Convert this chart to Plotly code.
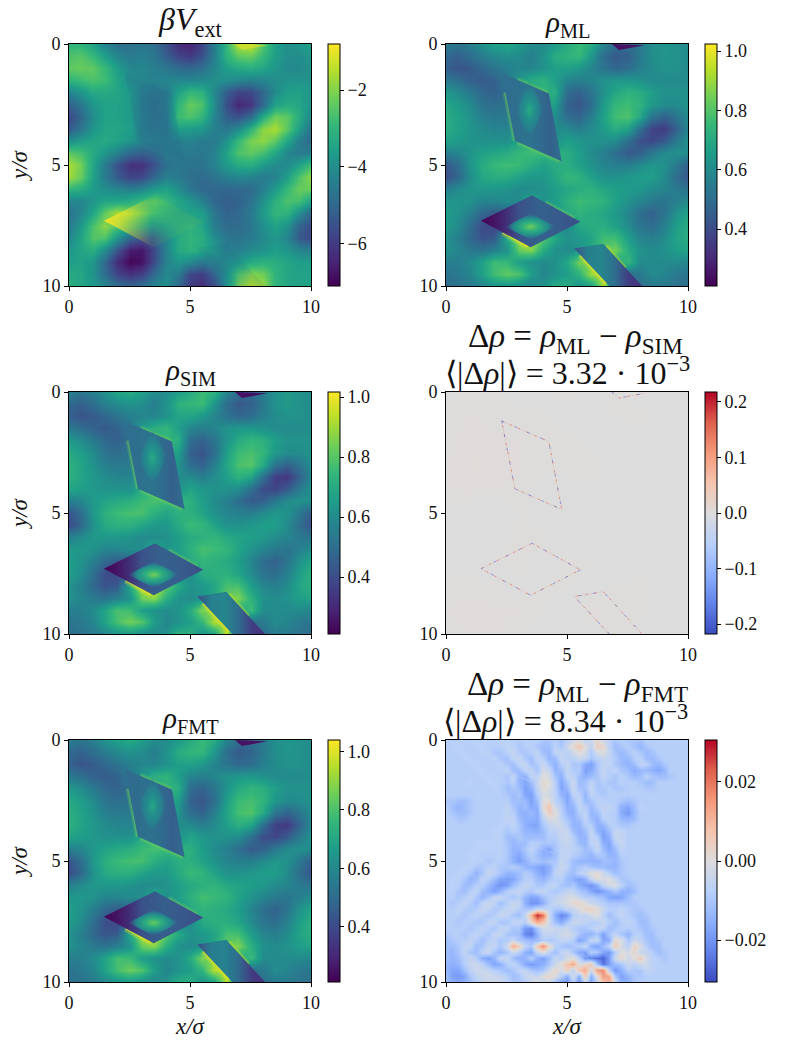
import numpy as np
import plotly.graph_objects as go
from plotly.colors import sample_colorscale

# values, rows are y = 0..10, columns x = 0..10
V_EXT = [
    [-3.0,-3.0,-3.5,-4.3,-4.8,-4.8,-4.6,-4.8,-5.5,-6.3,-6.5,-5.8,-4.5,-3.0,-1.5,-1.3,-2.5,-3.5,-4.0,-3.8,-3.5],
    [-2.6,-2.5,-2.9,-3.6,-4.2,-4.5,-4.4,-4.6,-5.2,-5.8,-6.0,-5.5,-4.4,-3.1,-2.4,-2.3,-2.9,-3.6,-4.0,-4.0,-3.8],
    [-2.4,-2.3,-2.4,-2.9,-3.6,-4.2,-4.2,-4.4,-4.6,-4.9,-5.0,-4.8,-4.2,-3.6,-3.3,-3.2,-3.4,-3.8,-4.1,-4.1,-3.9],
    [-3.0,-2.8,-2.6,-2.8,-3.4,-4.0,-4.2,-4.3,-4.2,-4.2,-4.2,-4.1,-4.0,-4.0,-4.2,-4.3,-4.2,-4.0,-3.9,-3.9,-3.9],
    [-4.2,-3.8,-3.3,-3.3,-3.4,-3.7,-4.4,-4.6,-4.5,-3.5,-2.9,-3.1,-4.1,-5.2,-5.8,-5.7,-5.0,-4.1,-3.6,-3.5,-3.8],
    [-5.2,-4.6,-3.8,-3.5,-3.5,-3.7,-4.5,-4.8,-4.5,-3.0,-2.3,-2.6,-4.0,-5.5,-6.4,-6.1,-4.9,-3.5,-3.2,-3.4,-3.9],
    [-5.7,-5.0,-4.0,-3.5,-3.5,-3.7,-4.4,-4.7,-4.6,-2.8,-2.6,-3.0,-4.2,-5.2,-5.5,-4.8,-3.2,-2.2,-2.4,-3.2,-4.2],
    [-5.3,-4.6,-3.8,-3.4,-3.4,-3.6,-4.4,-4.6,-4.6,-3.6,-3.7,-3.8,-4.3,-4.6,-4.1,-3.0,-1.9,-1.6,-2.4,-3.6,-4.8],
    [-3.9,-3.6,-3.4,-3.3,-3.5,-3.8,-4.3,-4.4,-4.5,-4.4,-4.3,-4.5,-4.5,-3.9,-2.9,-2.1,-1.9,-2.4,-3.4,-4.4,-5.0],
    [-2.4,-2.7,-3.3,-3.8,-4.3,-5.0,-5.2,-5.0,-4.5,-4.5,-4.5,-4.6,-4.3,-3.5,-2.6,-2.4,-2.7,-3.4,-4.2,-4.5,-4.4],
    [-1.6,-2.2,-3.4,-4.5,-5.5,-6.2,-6.2,-5.5,-4.8,-4.6,-4.7,-4.7,-4.3,-3.7,-3.3,-3.2,-3.7,-4.1,-4.1,-3.5,-2.7],
    [-1.7,-2.3,-3.5,-4.5,-5.3,-5.8,-5.7,-5.0,-4.4,-4.5,-4.8,-4.9,-4.7,-4.4,-4.2,-4.3,-4.5,-4.3,-3.6,-2.6,-1.9],
    [-3.0,-3.2,-3.7,-4.0,-4.2,-4.4,-4.2,-3.7,-3.5,-4.0,-4.6,-5.0,-5.0,-5.0,-5.0,-4.9,-4.4,-3.7,-2.9,-2.3,-2.3],
    [-4.2,-4.2,-3.8,-3.4,-3.4,-3.2,-2.8,-2.5,-2.9,-3.4,-3.8,-4.3,-5.0,-5.2,-5.1,-4.7,-3.9,-3.1,-2.6,-2.7,-3.5],
    [-4.7,-4.2,-3.4,-2.3,-1.6,-1.9,-2.4,-2.8,-3.1,-3.4,-3.5,-3.6,-4.6,-5.1,-5.0,-4.5,-3.7,-3.0,-3.0,-4.0,-5.0],
    [-4.5,-3.7,-2.6,-1.9,-2.6,-3.3,-3.7,-3.9,-3.6,-3.3,-3.1,-3.4,-4.4,-4.9,-4.9,-4.6,-4.0,-3.5,-3.9,-5.1,-5.6],
    [-4.2,-3.4,-2.5,-2.6,-3.8,-5.0,-5.5,-5.2,-4.2,-3.3,-3.0,-3.2,-4.0,-4.6,-4.7,-4.5,-4.1,-3.8,-4.2,-5.3,-5.7],
    [-3.8,-3.4,-3.2,-4.0,-5.4,-6.6,-6.7,-5.7,-4.3,-3.3,-3.1,-3.3,-3.7,-4.3,-4.4,-4.1,-3.9,-3.6,-3.8,-4.2,-4.4],
    [-3.6,-3.5,-3.8,-5.0,-6.3,-7.0,-6.8,-5.6,-4.3,-3.8,-4.1,-4.6,-4.3,-4.0,-3.7,-3.3,-3.1,-3.2,-3.4,-3.6,-3.6],
    [-3.3,-3.4,-3.9,-4.9,-5.8,-6.2,-5.9,-4.9,-4.1,-4.5,-5.7,-5.9,-5.1,-3.9,-2.6,-2.0,-2.2,-3.0,-3.4,-3.5,-3.5],
    [-3.2,-3.4,-3.7,-4.2,-4.8,-5.0,-4.8,-4.2,-4.0,-4.9,-6.0,-6.3,-5.6,-4.0,-2.1,-1.5,-1.8,-3.0,-3.4,-3.5,-3.5],
]

# densities in hundredths
RHO_ML = [
    [55,52,56,62,67,69,65,60,60,65,70,76,71,58,50,50,54,61,63,62,60],
    [48,46,50,55,59,61,60,56,62,71,73,75,64,50,44,46,54,61,63,62,60],
    [46,42,44,48,52,56,58,58,62,67,67,64,58,52,48,50,56,60,62,62,60],
    [54,50,46,44,46,54,64,71,73,66,58,56,58,62,64,64,62,60,60,60,60],
    [64,60,54,48,46,50,58,66,73,71,50,46,52,62,69,73,71,66,62,62,62],
    [69,65,60,52,50,52,58,64,69,65,46,43,50,65,75,77,73,64,60,60,62],
    [71,67,62,56,54,54,58,62,65,61,50,47,56,67,77,79,69,52,46,52,60],
    [71,67,63,60,58,58,60,62,63,60,60,56,60,65,71,67,50,37,35,46,58],
    [67,65,63,62,62,62,69,75,71,62,67,64,62,62,60,50,41,39,44,54,62],
    [56,58,63,67,69,71,75,77,75,73,71,66,60,56,50,44,46,54,60,62,60],
    [43,50,63,71,75,77,76,71,67,71,71,67,62,58,56,56,60,64,62,54,45],
    [41,48,61,69,71,71,67,64,64,69,75,73,67,62,62,64,66,66,60,50,43],
    [56,60,63,64,64,62,60,60,62,66,69,71,73,69,67,65,64,60,58,54,52],
    [63,63,62,58,58,60,60,71,62,66,72,77,75,73,67,62,58,54,52,56,60],
    [65,62,56,48,44,46,50,56,60,64,70,73,71,69,65,58,50,46,52,62,68],
    [65,60,50,40,38,46,60,66,64,60,60,69,71,71,67,60,52,50,56,66,71],
    [62,56,48,42,44,70,90,95,81,69,62,64,68,77,77,66,58,56,60,68,71],
    [62,58,54,52,56,62,83,87,71,62,60,62,70,81,85,71,62,60,62,66,68],
    [56,56,60,67,77,75,66,62,60,62,69,85,83,70,66,75,60,60,60,60,58],
    [52,54,58,67,77,82,79,66,58,62,66,73,90,87,58,50,54,60,58,54,52],
    [50,52,54,58,62,63,60,58,62,71,71,62,66,92,52,48,50,54,54,52,50],
]
RHO_SIM = [
    [56,52,56,62,68,70,66,60,60,66,70,76,72,58,50,50,54,62,64,62,60],
    [48,46,50,56,60,62,60,56,62,72,74,76,64,50,44,46,54,62,64,62,60],
    [46,42,44,48,52,56,58,58,62,68,68,64,58,52,48,50,56,60,62,62,60],
    [54,50,46,44,46,54,64,72,74,66,58,56,58,62,64,64,62,60,60,60,60],
    [64,60,54,48,46,50,58,66,74,72,50,46,52,62,70,74,72,66,62,62,62],
    [70,66,60,52,50,52,58,64,70,66,46,42,50,66,76,78,74,64,60,60,62],
    [72,68,62,56,54,54,58,62,66,62,50,46,56,68,78,80,70,52,46,52,60],
    [72,68,64,60,58,58,60,62,64,60,60,56,60,66,72,68,50,36,34,46,58],
    [68,66,64,62,62,62,70,76,72,62,68,64,62,62,60,50,40,38,44,54,62],
    [56,58,64,68,70,72,76,78,76,74,72,66,60,56,50,44,46,54,60,62,60],
    [42,50,64,72,76,78,78,72,68,72,72,68,62,58,56,56,60,64,62,54,44],
    [40,48,62,70,72,72,68,64,64,70,76,74,68,62,62,64,66,66,60,50,42],
    [56,60,64,64,64,62,60,60,62,66,70,72,74,70,68,66,64,60,58,54,52],
    [64,64,62,58,58,60,60,72,62,66,72,78,76,74,68,62,58,54,52,56,60],
    [66,62,56,48,44,46,50,56,60,64,70,74,72,70,66,58,50,46,52,62,68],
    [66,60,50,40,38,46,60,66,64,60,60,70,72,72,68,60,52,50,56,66,72],
    [62,56,48,42,44,70,92,96,82,70,62,64,68,78,78,66,58,56,60,68,72],
    [62,58,54,52,56,62,84,88,72,62,60,62,70,82,86,72,62,60,62,66,68],
    [56,56,60,68,78,76,66,62,60,62,70,86,84,70,66,76,60,60,60,60,58],
    [52,54,58,68,78,84,80,66,58,62,66,74,92,88,58,50,54,60,58,54,52],
    [50,52,54,58,62,64,60,58,62,72,72,62,66,94,52,48,50,54,54,52,50],
]
RHO_FMT = [
    [56,53,57,63,68,71,67,61,61,66,71,77,72,59,51,51,55,62,64,63,61],
    [49,47,51,56,60,63,61,57,63,72,75,76,65,51,45,47,55,62,64,63,61],
    [47,43,45,49,53,57,59,59,63,68,68,65,59,53,49,51,57,61,63,63,61],
    [55,51,47,45,47,55,65,73,75,67,59,57,59,63,65,65,63,61,61,61,61],
    [65,61,55,49,47,51,59,67,75,73,51,47,53,63,71,75,73,67,63,63,63],
    [71,67,61,53,51,53,59,65,71,67,47,43,51,67,77,79,75,65,61,61,63],
    [73,69,63,57,55,55,59,63,67,63,51,47,57,69,79,81,71,53,47,53,61],
    [73,69,65,61,59,59,61,63,65,61,61,57,61,67,73,69,51,37,35,47,59],
    [69,67,65,63,63,63,71,77,73,63,69,65,63,63,61,51,41,39,45,55,63],
    [57,59,65,69,71,73,77,79,77,75,73,67,61,57,51,45,47,55,61,63,61],
    [43,51,65,73,77,79,79,73,69,73,73,69,63,59,57,57,61,65,63,55,45],
    [41,49,63,71,73,73,69,65,65,71,77,75,69,63,63,65,67,67,61,51,43],
    [57,61,65,65,65,63,61,61,63,67,71,73,75,71,69,67,65,61,59,55,53],
    [65,65,63,59,59,61,61,73,63,67,73,79,77,75,69,63,59,55,53,57,61],
    [67,63,57,49,45,47,51,57,61,65,71,75,73,71,67,59,51,47,53,63,69],
    [67,61,51,41,39,47,61,67,65,61,61,71,73,73,69,61,53,51,57,67,73],
    [63,57,49,43,45,71,94,98,83,71,63,65,69,79,79,67,59,57,61,69,73],
    [63,59,55,53,57,63,85,89,73,63,61,63,71,83,88,73,63,61,63,67,69],
    [57,57,61,69,79,77,67,63,61,63,71,88,85,71,67,77,61,61,61,61,59],
    [53,55,59,69,79,85,81,67,59,63,67,75,95,90,59,51,55,61,59,55,53],
    [51,53,55,59,63,65,61,59,63,73,73,63,67,96,53,49,51,55,55,53,51],
]

# differences in thousandths
DELTA_SIM = [
    [0,1,1,0,0,2,-1,1,0,0,0],
    [1,2,1,1,1,-1,-1,1,1,0,0],
    [1,3,2,2,1,2,0,-2,0,0,0],
    [2,3,3,2,1,1,2,-2,-1,0,0],
    [2,3,2,1,0,0,0,0,0,0,0],
    [-1,-2,-2,1,-1,-2,0,0,0,0,0],
    [-2,-1,-1,2,1,-1,-1,0,0,0,0],
    [0,0,-1,3,-2,1,1,-1,0,0,0],
    [1,1,1,-1,1,1,-1,1,1,0,0],
    [2,3,2,2,1,-2,3,1,1,0,0],
    [1,2,2,1,-1,2,-2,2,0,0,0],
]
DELTA_FMT = [
    [-8,-8,-8,-8,-7,-7,-8,-8,-8,-7,  -7,-8,-8,-8,-7,-8,-10,-10,-8,-11,  -7,-3,-2,-6,-4,2,-3,-7,-10,-8,  -10,-10,-11,-8,-8,-8,-8,-8,-8,-8,-8],
    [-8,-7,-7,-8,-8,-7,-7,-8,-8,-8,  -6,-7,-10,-8,-7,-10,-12,-12,-7,-10,  -4,2,7,0,-6,5,2,-7,-12,-10,  -8,-11,-14,-10,-8,-8,-8,-8,-8,-8,-8],
    [-8,-8,-7,-7,-8,-8,-7,-7,-10,-10,  -7,-5,-9,-10,-8,-6,-12,-13,-6,-6,  -7,-3,1,-2,-9,-2,0,-5,-11,-13,  -10,-7,-10,-13,-11,-8,-8,-8,-8,-8,-8],
    [-8,-8,-8,-7,-7,-8,-8,-8,-7,-10,  -11,-6,-5,-10,-12,-6,-8,-14,-12,-5,  -7,-7,-4,-5,-10,-7,-5,-6,-9,-13,  -13,-8,-7,-12,-13,-10,-8,-8,-8,-8,-8],
    [-8,-8,-8,-8,-7,-7,-8,-8,-8,-7,  -10,-12,-6,-5,-11,-9,-4,-10,-15,-8,  -5,-10,-10,-16,-18,-10,-6,-6,-10,-12,  -15,-12,-6,-7,-12,-14,-10,-8,-8,-8,-8],
    [-8,-8,-8,-8,-8,-7,-7,-8,-8,-8,  -6,-12,-12,-6,-6,-11,-2,-5,-14,-12,  -5,-9,-9,-18,-16,-10,-5,-8,-6,-10,  -12,-16,-13,-13,-15,-17,-14,-8,-8,-8,-8],
    [-8,-8,-8,-8,-8,-8,-7,-7,-8,-8,  -10,-6,-14,-15,-6,-6,0,-2,-11,-15,  -6,-6,-12,-15,-12,-10,-6,-8,-10,-7,  -10,-13,-12,-7,-10,-12,-12,-10,-8,-8,-8],
    [-8,-8,-8,-8,-7,-8,-8,-7,-7,-8,  -10,-7,-14,-17,-12,-5,2,0,-8,-17,  -10,-4,-12,-11,-6,-10,-8,-10,-10,-7,  -8,-8,-10,-12,-12,-8,-8,-8,-8,-8,-8],
    [-8,-8,-8,-8,-8,-8,-8,-8,-7,-8,  -12,-10,-12,-18,-15,-6,2,-1,-7,-17,  -13,-4,-11,-11,-5,-10,-10,-8,-10,-10,  -8,-8,-8,-10,-10,-8,-8,-8,-8,-8,-8],
    [-8,-8,-8,-8,-8,-8,-8,-8,-8,-8,  -10,-12,-10,-17,-18,-8,-2,-2,-7,-14,  -17,-6,-7,-14,-6,-8,-10,-8,-8,-8,  -8,-8,-8,-8,-8,-8,-8,-8,-8,-8,-8],
    [-10,-10,-12,-12,-10,-8,-8,-8,-8,-8,  -8,-12,-12,-13,-18,-12,0,1,-7,-10,  -17,-11,-5,-13,-11,-7,-7,-8,-8,-10,  -12,-10,-8,-8,-8,-8,-8,-8,-8,-8,-8],
    [-8,-12,-14,-12,-10,-8,-8,-8,-8,-8,  -6,-10,-14,-12,-16,-15,1,7,-3,-8,  -15,-14,-6,-8,-13,-8,-6,-6,-8,-15,  -17,-12,-7,-8,-8,-8,-8,-8,-8,-8,-8],
    [-8,-10,-12,-12,-10,-8,-8,-8,-8,-8,  -6,-8,-14,-15,-13,-16,-3,5,1,-7,  -14,-15,-8,-6,-14,-12,-6,-8,-8,-16,  -19,-13,-8,-8,-8,-8,-8,-8,-8,-8,-8],
    [-8,-8,-10,-10,-8,-8,-8,-8,-8,-8,  -6,-6,-12,-15,-15,-16,-7,-2,-1,-6,  -10,-14,-12,-6,-12,-15,-8,-6,-8,-13,  -14,-12,-8,-8,-8,-8,-8,-8,-8,-8,-8],
    [-8,-8,-8,-8,-8,-8,-8,-8,-8,-7,  -8,-6,-10,-15,-17,-17,-10,-6,-3,-4,  -8,-14,-14,-8,-8,-15,-14,-8,-8,-10,  -10,-8,-8,-8,-8,-8,-8,-8,-8,-8,-8],
    [-8,-8,-8,-8,-8,-8,-8,-8,-7,-7,  -10,-8,-10,-14,-14,-15,-12,-7,-7,-4,  -5,-12,-15,-12,-5,-14,-17,-12,-5,-6,  -8,-8,-8,-8,-8,-8,-8,-8,-8,-8,-8],
    [-8,-8,-8,-8,-8,-8,-8,-8,-7,-7,  -12,-12,-10,-12,-12,-12,-12,-8,-8,-5,  -4,-8,-14,-14,-5,-8,-18,-15,-5,-5,  -8,-8,-8,-8,-8,-8,-8,-8,-8,-8,-8],
    [-8,-8,-8,-8,-8,-7,-7,-7,-7,-7,  -10,-14,-12,-12,-8,-8,-10,-10,-10,-6,  -5,-7,-12,-14,-7,-5,-15,-17,-8,-5,  -8,-8,-8,-8,-8,-8,-8,-8,-8,-8,-8],
    [-8,-8,-8,-8,-8,-7,-7,-7,-8,-7,  -10,-14,-14,-10,-6,-10,-15,-17,-10,-6,  -6,-7,-8,-12,-10,-5,-12,-17,-12,-6,  -8,-8,-8,-8,-8,-8,-8,-8,-8,-8,-8],
    [-8,-8,-8,-8,-7,-7,-8,-8,-8,-7,  -10,-15,-17,-12,-8,-12,-15,-15,-12,-6,  -6,-8,-10,-12,-14,-10,-10,-14,-14,-8,  -8,-8,-8,-8,-8,-8,-8,-8,-8,-8,-8],
    [-8,-8,-8,-8,-7,-7,-8,-10,-8,-8,  -10,-15,-18,-15,-10,-10,-12,-10,-10,-5,  -7,-12,-14,-14,-15,-15,-12,-12,-14,-10,  -8,-8,-8,-8,-8,-8,-8,-8,-8,-8,-8],
    [-8,-8,-8,-7,-7,-10,-10,-7,-7,-10,  -10,-8,-10,-14,-15,-17,-18,-15,-8,-4,  -7,-12,-10,-8,-10,-12,-12,-14,-14,-10,  -8,-8,-8,-8,-8,-8,-8,-8,-8,-8,-8],
    [-8,-8,-7,-7,-10,-14,-10,-5,-7,-10,  -14,-14,-12,-8,-10,-15,-18,-14,-6,-5,  -10,-12,-7,-5,0,2,-3,-8,-12,-10,  -8,-8,-8,-8,-8,-8,-8,-8,-8,-8,-8],
    [-8,-7,-7,-10,-14,-12,-6,-8,-12,-17,  -18,-17,-12,-8,-8,-12,-14,-10,-8,-8,  -12,-15,-18,-15,-5,0,-2,0,-5,-10,  -10,-8,-8,-8,-8,-8,-8,-8,-8,-8,-8],
    [-8,-7,-8,-12,-12,-8,-8,-12,-17,-20,  -18,-12,-8,-5,-7,-10,-10,-6,-6,-10,  -12,-10,-15,-18,-20,-15,-5,-2,-1,-7,  -12,-10,-8,-8,-8,-8,-8,-8,-8,-8,-8],
    [-8,-7,-10,-12,-8,-6,-12,-15,-18,-14,  -8,-6,-5,-8,-10,-6,-5,-8,-10,-8,  -5,-6,-10,-12,-17,-20,-18,-14,-10,-14,  -15,-12,-8,-8,-8,-8,-8,-8,-8,-8,-8],
    [-8,-8,-10,-8,-6,-10,-14,-10,-5,-5,  -8,-10,-8,-14,-17,-17,-12,-8,-6,-4,  -2,-1,-5,-8,-8,-10,-12,-17,-18,-17,  -12,-8,-8,-8,-8,-8,-8,-8,-8,-8,-8],
    [-8,-10,-8,-6,-8,-12,-6,-4,-6,-12,  -8,-4,-5,-15,-20,-20,-15,-8,-5,-4,  -1,2,3,0,-4,-6,-8,-10,-10,-10,  -10,-10,-8,-8,-8,-8,-8,-8,-8,-8,-8],
    [-8,-8,-6,-8,-10,-8,-5,-6,-10,-8,  -5,-5,-8,-10,-10,-4,-5,-6,-10,-10,  -6,-5,-1,3,4,1,-5,-8,-8,-6,  -8,-10,-10,-8,-8,-8,-8,-8,-8,-8,-8],
    [-8,-8,-8,-10,-8,-6,-8,-10,-8,-5,  -6,-10,-12,-5,10,28,20,-4,-16,-22,  -19,-8,-5,-6,-3,0,-6,-12,-8,-6,  -8,-10,-12,-10,-8,-8,-8,-8,-8,-8,-8],
    [-8,-8,-10,-8,-8,-10,-10,-6,-6,-10,  -10,-6,-5,-8,3,12,7,-4,-12,-16,  -10,-4,-5,-6,-8,-8,-5,-8,-12,-8,  -6,-8,-12,-12,-8,-8,-8,-8,-8,-8,-8],
    [-8,-8,-8,-8,-10,-8,-6,-8,-10,-6,  -6,-10,-10,-19,-20,-10,-3,-3,-4,-5,  -4,-8,-10,-10,-8,-5,-6,-12,-10,-8,  -8,-8,-10,-12,-10,-8,-8,-8,-8,-8,-8],
    [-10,-8,-8,-10,-8,-6,-8,-10,-6,-5,  -10,-12,-12,-22,-24,-14,-6,-5,-6,-3,  -2,-5,-10,-14,-14,-10,-18,-10,-6,-10,  -14,-8,-8,-12,-12,-8,-8,-8,-8,-8,-8],
    [-12,-10,-8,-8,-6,-8,-12,-8,-6,-10,  -8,-4,-10,-12,-14,-14,-8,-10,-8,-6,  -6,-8,-17,-14,-5,-5,-18,-15,2,-1,  -10,-4,-6,-10,-12,-10,-8,-8,-8,-8,-8],
    [-12,-12,-10,-6,-6,-12,-10,-5,-6,-10,  -3,12,5,-6,-10,7,16,3,-7,-10,  -12,-10,-8,-5,-15,-18,-12,-6,6,-2,  -7,4,-1,-8,-12,-12,-8,-8,-8,-8,-8],
    [-12,-14,-10,-6,-10,-12,-6,-4,-10,-14,  -10,-4,-8,-15,-17,-5,0,-7,-12,-6,  -4,-10,-17,-18,-8,-10,-17,-19,-8,0,  -2,3,-5,-5,-8,-12,-10,-8,-8,-8,-8],
    [-12,-14,-12,-8,-5,-8,-15,-18,-14,-5,  -5,-12,-15,-14,-8,-15,-18,-12,-5,-8,  -2,0,-7,-20,-22,-25,-27,-18,-4,3,  -3,0,6,-3,-7,-8,-10,-8,-8,-8,-8],
    [-14,-15,-14,-8,-5,-4,-7,-12,-17,-15,  -8,-6,-10,-17,-19,-17,-15,-10,-4,1,  7,13,-1,3,7,-12,-25,-18,-12,-10,  -4,-7,-4,-3,-7,-8,-8,-8,-8,-8,-8],
    [-14,-17,-17,-12,-6,-4,-4,-5,-8,-10,  -12,-10,-6,-5,-10,-12,-10,-3,3,-2,  5,-7,8,12,-3,15,17,-8,-20,-15,  -8,-10,-10,-6,-6,-8,-8,-8,-8,-8,-8],
    [-12,-18,-19,-17,-10,-6,-4,-3,-4,-5,  -8,-12,-10,-5,-3,-5,0,3,0,-8,  -15,-2,-15,6,-15,0,15,12,-10,-18,  -14,-10,-10,-8,-8,-8,-8,-8,-8,-8,-8],
    [-12,-15,-17,-15,-12,-8,-5,-4,-3,-4,  -6,-10,-10,-8,-4,0,-5,-3,-12,-18,  -20,-8,-20,-3,-18,-5,8,13,-3,-15,  -15,-10,-8,-8,-8,-8,-8,-8,-8,-8,-8],
]

# colour limits
V_LIM = [-7.1, -0.8]
ML_LIM = [0.208, 1.024]
SIM_LIM = [0.21, 1.017]
FMT_LIM = [0.21, 1.04]
DS_LIM = [-0.218, 0.218]
DF_LIM = [-0.0306, 0.0306]

# obstacles seen in the fields (x, y corners)
PATCH_A_X = [2.3, 4.25, 4.78, 2.85, 2.3]
PATCH_A_Y = [1.2, 2.05, 4.85, 4.0, 1.2]
PATCH_B_X = [1.45, 3.55, 5.55, 3.5, 1.45]
PATCH_B_Y = [7.3, 6.25, 7.35, 8.4, 7.3]
PATCH_C_X = [6.75, 5.3, 6.5, 8.1]
PATCH_C_Y = [10, 8.45, 8.25, 10]
PATCH_D_X = [6.85, 7.15, 8.2]
PATCH_D_Y = [0, 0.25, 0.05]

# bright rims along the obstacle edges
RIM_YELLOW = [([2.35, 3.4], [7.78, 8.35]), ([5.55, 6.65], [8.72, 9.9])]
RIM_LIME = [([6.6, 7.4], [8.36, 9.28])]
RIM_GREEN = [([2.95, 4.2], [1.48, 2.03]), ([2.95, 4.7], [4.05, 4.82]), ([2.45, 2.85], [2.0, 4.0]),
             ([4.1, 5.3], [6.55, 7.22])]

# glow and ridge inside the obstacles
GLOW_X = [2.45, 3.5, 4.55, 3.5, 2.45]
GLOW_Y = [7.55, 7.0, 7.55, 8.1, 7.55]
RIDGE_X = [2.85, 3.45, 4.05, 3.45, 2.85]
RIDGE_Y = [2.7, 1.55, 2.7, 3.9, 2.7]

# density levels across the obstacles
GRAD_A = [0.50, 0.50, 0.52, 0.50, 0.46, 0.50]
GRAD_B = [0.30, 0.36, 0.42, 0.46, 0.44, 0.40]
GRAD_C = [0.40, 0.56, 0.58, 0.50, 0.36, 0.32]
GRAD_D = 0.25
GLOW_LEVELS = [0.84, 0.72, 0.60, 0.52]
RIDGE_LEVELS = [0.70, 0.62, 0.56, 0.50]

COOLWARM = [
    [0.0, "#3b4cc0"], [0.125, "#6282ea"], [0.25, "#8db0fe"], [0.375, "#b8d0f9"],
    [0.5, "#dddcdc"], [0.625, "#f5c4ad"], [0.75, "#f4987a"], [0.875, "#de604d"], [1.0, "#b40426"],
]

W, H = 789, 1049
SIZE = 242
LEFTS = [69, 446]
TOPS = [44, 392, 740]
FONT = "Liberation Serif"

xs = np.linspace(0, 10, 21)
fig = go.Figure()


def vir(v, lim):
    return sample_colorscale("Viridis", [(v - lim[0]) / (lim[1] - lim[0])])[0]


def stops(vals, lim):
    n = len(vals) - 1
    return [[i / n, vir(v, lim)] for i, v in enumerate(vals)]


def fading(vals, lim):
    # same as stops, but the last stop goes see-through
    out = stops(vals, lim)
    out[-1][1] = out[-1][1].replace("rgb(", "rgba(").replace(")", ", 0)")
    return out


def poly(n, px, py, **kw):
    fig.add_trace(go.Scatter(x=px, y=py, xaxis=f"x{n}", yaxis=f"y{n}", mode="lines", fill="toself",
                             line=dict(width=0), hoverinfo="skip", showlegend=False, **kw))


def edge(n, px, py, color, width=1, dash="solid"):
    fig.add_trace(go.Scatter(x=px, y=py, xaxis=f"x{n}", yaxis=f"y{n}", mode="lines",
                             line=dict(color=color, width=width, dash=dash), hoverinfo="skip", showlegend=False))


def panel(n, row, col, z, grid, lim, scale, ticks, ticktext=None):
    left, top = LEFTS[col], TOPS[row]
    dom_x = [left / W, (left + SIZE) / W]
    dom_y = [1 - (top + SIZE) / H, 1 - top / H]
    fig.add_trace(go.Heatmap(
        z=z, x=grid, y=grid, xaxis=f"x{n}", yaxis=f"y{n}", zsmooth="best",
        zmin=lim[0], zmax=lim[1], colorscale=scale, hoverinfo="skip",
        colorbar=dict(
            x=(left + 259) / W, xanchor="left", y=dom_y[0], yanchor="bottom", len=SIZE / H,
            thickness=12, xpad=0, ypad=0, outlinecolor="black", outlinewidth=1,
            tickvals=ticks, ticktext=ticktext, ticks="outside", ticklen=4, tickwidth=1, tickcolor="black",
            tickfont=dict(family=FONT, size=18, color="#111"),
        ),
    ))
    axis = dict(
        range=[0, 10], tickvals=[0, 5, 10], ticks="outside", ticklen=4, tickwidth=1, tickcolor="black",
        showline=True, linecolor="black", linewidth=1, mirror=True, showgrid=False, zeroline=False,
        automargin=False, tickfont=dict(family=FONT, size=18, color="#111"),
    )
    x_axis = dict(axis, domain=dom_x, anchor=f"y{n}")
    y_axis = dict(axis, domain=dom_y, anchor=f"x{n}", range=[10, 0])
    if row == 2:
        x_axis["title"] = dict(text="<i>x/σ</i>", font=dict(family=FONT, size=23, color="#111"), standoff=6)
    if col == 0:
        y_axis["title"] = dict(text="<i>y/σ</i>", font=dict(family=FONT, size=23, color="#111"), standoff=8)
    fig.update_layout({f"xaxis{n}": x_axis, f"yaxis{n}": y_axis})


def rho_overlays(n, lim):
    for rx, ry in RIM_GREEN:
        edge(n, rx, ry, "rgba(110,205,90,0.22)", width=6)
        edge(n, rx, ry, "rgba(110,205,90,0.4)", width=3)
    for rx, ry in RIM_YELLOW:
        edge(n, rx, ry, "rgba(240,229,33,0.3)", width=7)
        edge(n, rx, ry, "rgba(240,229,33,0.6)", width=3)
    for rx, ry in RIM_LIME:
        edge(n, rx, ry, "rgba(190,223,38,0.25)", width=6)
        edge(n, rx, ry, "rgba(190,223,38,0.5)", width=3)
    poly(n, PATCH_A_X, PATCH_A_Y, fillgradient=dict(type="horizontal", colorscale=stops(GRAD_A, lim)))
    poly(n, RIDGE_X, RIDGE_Y, fillgradient=dict(type="radial", colorscale=fading(RIDGE_LEVELS, lim)))
    poly(n, PATCH_B_X, PATCH_B_Y, fillgradient=dict(type="horizontal", colorscale=stops(GRAD_B, lim)))
    poly(n, PATCH_B_X, PATCH_B_Y, fillgradient=dict(
        type="horizontal", start=1.45, stop=3.0,
        colorscale=[[0, "rgba(68,1,84,0.95)"], [1, "rgba(68,1,84,0)"]]))
    poly(n, GLOW_X, GLOW_Y, fillgradient=dict(type="radial", colorscale=fading(GLOW_LEVELS, lim)))
    poly(n, PATCH_C_X, PATCH_C_Y, fillgradient=dict(type="horizontal", colorscale=stops(GRAD_C, lim)))
    poly(n, PATCH_D_X, PATCH_D_Y, fillcolor=vir(GRAD_D, lim))


# beta V_ext
panel(1, 0, 0, V_EXT, xs, V_LIM, "Viridis", [-2, -4, -6], ["−2", "−4", "−6"])
poly(1, PATCH_A_X, PATCH_A_Y, fillcolor="rgba(40,80,140,0.1)")
poly(1, PATCH_B_X, PATCH_B_Y, fillcolor="rgba(180,222,44,0.08)")
poly(1, PATCH_B_X, PATCH_B_Y, fillgradient=dict(
    type="horizontal", start=1.45, stop=3.4,
    colorscale=[[0, "rgba(253,231,37,0.9)"], [1, "rgba(253,231,37,0)"]]))
poly(1, PATCH_C_X, PATCH_C_Y, fillcolor="rgba(40,80,140,0.1)")
poly(1, PATCH_D_X, PATCH_D_Y, fillcolor="rgba(220,225,50,0.6)")

# rho ML
panel(2, 0, 1, np.array(RHO_ML) / 100, xs, ML_LIM, "Viridis", [0.4, 0.6, 0.8, 1.0], ["0.4", "0.6", "0.8", "1.0"])
rho_overlays(2, ML_LIM)

# rho SIM
panel(3, 1, 0, np.array(RHO_SIM) / 100, xs, SIM_LIM, "Viridis", [0.4, 0.6, 0.8, 1.0], ["0.4", "0.6", "0.8", "1.0"])
rho_overlays(3, SIM_LIM)

# ML - SIM
panel(4, 1, 1, np.array(DELTA_SIM) / 1000, np.linspace(0, 10, 11), DS_LIM, COOLWARM,
      [-0.2, -0.1, 0, 0.1, 0.2], ["−0.2", "−0.1", "0.0", "0.1", "0.2"])
for px, py in [(PATCH_A_X, PATCH_A_Y), (PATCH_B_X, PATCH_B_Y), (PATCH_C_X, PATCH_C_Y), (PATCH_D_X, PATCH_D_Y)]:
    edge(4, px, py, "rgba(226,170,150,0.3)", width=1)
    edge(4, px, py, "rgba(215,90,70,0.55)", width=1, dash="2px,7px")
    edge(4, px, py, "rgba(80,110,225,0.55)", width=1, dash="3px,11px")

# rho FMT
panel(5, 2, 0, np.array(RHO_FMT) / 100, xs, FMT_LIM, "Viridis", [0.4, 0.6, 0.8, 1.0], ["0.4", "0.6", "0.8", "1.0"])
rho_overlays(5, FMT_LIM)

# ML - FMT
panel(6, 2, 1, np.array(DELTA_FMT) / 1000, np.linspace(0, 10, 41), DF_LIM, COOLWARM,
      [-0.02, 0, 0.02], ["−0.02", "0.00", "0.02"])
for px, py in [(PATCH_A_X, PATCH_A_Y), (PATCH_B_X, PATCH_B_Y), (PATCH_C_X, PATCH_C_Y)]:
    edge(6, px, py, "rgba(190,210,245,0.4)", width=1)

# titles
titles = [
    ("<i>βV</i><sub>ext</sub>", 190, 43, 32),
    ("<i>ρ</i><sub>ML</sub>", 567, 43, 29),
    ("<i>ρ</i><sub>SIM</sub>", 190, 391, 29),
    ("<i>ρ</i><sub>FMT</sub>", 190, 739, 29),
    ("Δ<i>ρ</i> = <i>ρ</i><sub>ML</sub> − <i>ρ</i><sub>SIM</sub>", 575, 360, 33),
    ("⟨|Δ<i>ρ</i>|⟩ = 3.32 · 10<sup>−3</sup>", 567, 392, 32),
    ("Δ<i>ρ</i> = <i>ρ</i><sub>ML</sub> − <i>ρ</i><sub>FMT</sub>", 577, 708, 33),
    ("⟨|Δ<i>ρ</i>|⟩ = 8.34 · 10<sup>−3</sup>", 565, 740, 32),
]
for text, px, py, fs in titles:
    fig.add_annotation(text=text, x=px / W, y=1 - py / H, xref="paper", yref="paper",
                       xanchor="center", yanchor="bottom", showarrow=False, borderpad=0,
                       font=dict(family=FONT, size=fs, color="#111"))

fig.update_layout(
    width=W, height=H, margin=dict(l=0, r=0, t=0, b=0, autoexpand=False),
    paper_bgcolor="white", plot_bgcolor="white", showlegend=False,
    font=dict(family=FONT, color="#111"),
)

fig.write_html("out.html", config={"displayModeBar": False}, post_script="document.body.style.margin='0';")
